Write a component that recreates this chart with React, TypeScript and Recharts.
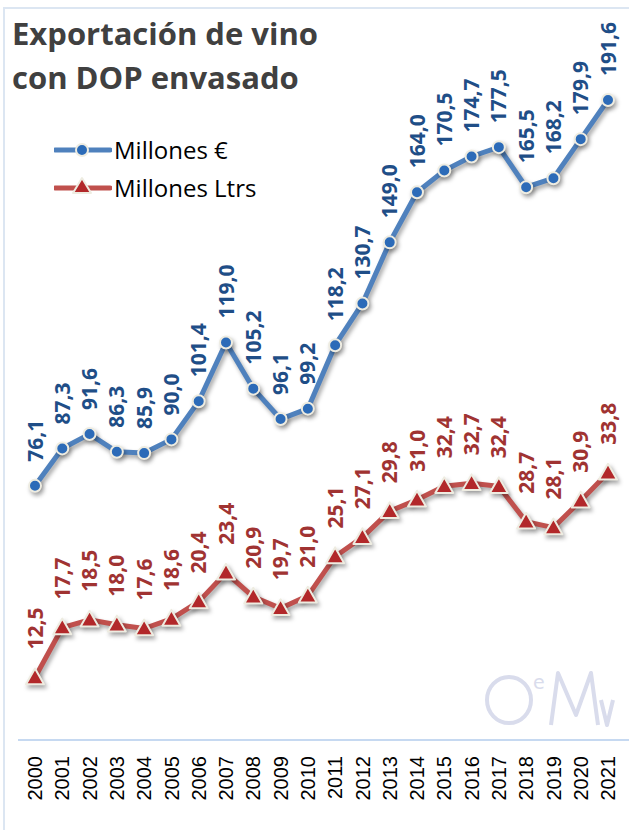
import React from 'react';
import { LineChart, Line, XAxis, YAxis, LabelList } from 'recharts';

const years = ['2000','2001','2002','2003','2004','2005','2006','2007','2008','2009','2010','2011','2012','2013','2014','2015','2016','2017','2018','2019','2020','2021'];
const eurosMillions = [76.1,87.3,91.6,86.3,85.9,90.0,101.4,119.0,105.2,96.1,99.2,118.2,130.7,149.0,164.0,170.5,174.7,177.5,165.5,168.2,179.9,191.6];
const litersMillions = [12.5,17.7,18.5,18.0,17.6,18.6,20.4,23.4,20.9,19.7,21.0,25.1,27.1,29.8,31.0,32.4,32.7,32.4,28.7,28.1,30.9,33.8];
const titleLines = ['Exportación de vino', 'con DOP envasado'];
const seriesNames = ['Millones €', 'Millones Ltrs'];

const data = years.map((y, i) => ({ year: y, eur: eurosMillions[i], ltr: litersMillions[i] }));

const BLUE_LINE = '#4F81BD';
const BLUE_DOT = '#2C6BB8';
const BLUE_TEXT = '#1F4E87';
const RED_LINE = '#C0504D';
const RED_DOT = '#B2282A';
const RED_TEXT = '#A03332';
const CREAM = '#EEECE1';
const LOGO = '#D9DCEC';

const fmt = (v: number) => v.toFixed(1).replace('.', ',');

const makeLabel = (color: string, offset: number) => (props: any) => {
  const x = props.x ?? props.viewBox?.x;
  const y = props.y ?? props.viewBox?.y;
  if (x == null || y == null) return null;
  return (
    <text
      transform={`translate(${x},${y - offset}) rotate(-90)`}
      textAnchor="start"
      dy="0.36em"
      fontFamily="'Open Sans', sans-serif"
      fontWeight={700}
      fontSize={21}
      fill={color}
    >
      {fmt(Number(props.value))}
    </text>
  );
};

const Triangle = (props: any) => {
  const { cx, cy, index } = props;
  if (cx == null || cy == null) return null;
  const s = 9;
  return (
    <path
      key={`tri-${index}`}
      d={`M${cx},${cy - s} L${cx + s},${cy + s * 0.75} L${cx - s},${cy + s * 0.75} Z`}
      fill={RED_DOT}
      stroke={CREAM}
      strokeWidth={2}
      strokeLinejoin="round"
    />
  );
};

const YearTick = (props: any) => {
  const { x, y, payload } = props;
  return (
    <text
      transform={`translate(${x},${y + 16}) rotate(-90)`}
      textAnchor="end"
      dy="0.36em"
      fontFamily="'Liberation Sans', Arial, sans-serif"
      fontSize={20}
      fill="#000"
    >
      {payload.value}
    </text>
  );
};

const LegendBlock = () => (
  <div style={{ position: 'absolute', left: 54, top: 131, fontFamily: "'Open Sans', sans-serif", fontSize: 24, color: '#000' }}>
    {seriesNames.map((name, i) => (
      <div key={name} style={{ display: 'flex', alignItems: 'center', height: 38 }}>
        <svg width={58} height={24} style={{ marginRight: 2 }}>
          <line x1={1} y1={12} x2={56} y2={12} stroke={i === 0 ? BLUE_LINE : RED_LINE} strokeWidth={5} strokeLinecap="round" />
          {i === 0 ? (
            <circle cx={28} cy={12} r={6} fill={BLUE_DOT} stroke={CREAM} strokeWidth={2} />
          ) : (
            <path d="M28,2 L37,17 L19,17 Z" fill={RED_DOT} stroke={CREAM} strokeWidth={2} strokeLinejoin="round" />
          )}
        </svg>
        <span style={{ lineHeight: '24px' }}>{name}</span>
      </div>
    ))}
  </div>
);

const Logo = () => (
  <svg width={140} height={60} style={{ position: 'absolute', left: 480, top: 670 }}>
    <ellipse cx={29} cy={30} rx={22} ry={23} fill="none" stroke={LOGO} strokeWidth={4} />
    <text x={53} y={19} fontFamily="'DejaVu Sans', sans-serif" fontSize={19} fill={LOGO}>e</text>
    <polyline points="71,55 78,3 96,45 111,3 118,55" fill="none" stroke={LOGO} strokeWidth={4} strokeLinejoin="round" />
    <polyline points="121,30 127,55 133,30" fill="none" stroke={LOGO} strokeWidth={4} strokeLinejoin="round" />
  </svg>
);

export default function App() {
  return (
    <div style={{ position: 'absolute', left: 0, top: 0, width: 629, height: 830, overflow: 'hidden', background: '#fff' }}>
      <style>{`
        .recharts-line-curve, .recharts-line-dots { filter: drop-shadow(2px 3px 2px rgba(0,0,0,0.35)); }
      `}</style>
      <div style={{ position: 'absolute', left: 3, top: 7, width: 700, height: 900, border: '2px solid #DCE6F2', boxSizing: 'border-box' }} />
      <Logo />
      <div style={{ position: 'absolute', left: 0, top: 0 }}>
        <LineChart width={629} height={830} data={data} margin={{ top: 72, right: 0, left: 18, bottom: 0 }}>
          <XAxis
            dataKey="year"
            height={90}
            padding={{ left: 17, right: 21 }}
            axisLine={{ stroke: '#C6D9F1', strokeWidth: 2 }}
            tickLine={false}
            tickSize={0}
            tickMargin={0}
            interval={0}
            tick={<YearTick />}
          />
          <YAxis yAxisId="eur" hide domain={[0, 200]} allowDataOverflow />
          <YAxis yAxisId="ltr" hide domain={[6, 75.5]} allowDataOverflow />
          <Line
            yAxisId="eur"
            dataKey="eur"
            name={seriesNames[0]}
            stroke={BLUE_LINE}
            strokeWidth={5}
            dot={{ r: 6, fill: BLUE_DOT, stroke: CREAM, strokeWidth: 2 }}
            activeDot={false}
            isAnimationActive={false}
          >
            <LabelList dataKey="eur" content={makeLabel(BLUE_TEXT, 24)} />
          </Line>
          <Line
            yAxisId="ltr"
            dataKey="ltr"
            name={seriesNames[1]}
            stroke={RED_LINE}
            strokeWidth={5}
            dot={<Triangle />}
            activeDot={false}
            isAnimationActive={false}
          >
            <LabelList dataKey="ltr" content={makeLabel(RED_TEXT, 28)} />
          </Line>
        </LineChart>
      </div>
      <LegendBlock />
      <div style={{ position: 'absolute', left: 12, top: 11, fontFamily: "'Open Sans', sans-serif", fontWeight: 700, fontSize: 31, lineHeight: '44px', color: '#404040', whiteSpace: 'nowrap' }}>
        {titleLines.map((t) => (<div key={t}>{t}</div>))}
      </div>
    </div>
  );
}
